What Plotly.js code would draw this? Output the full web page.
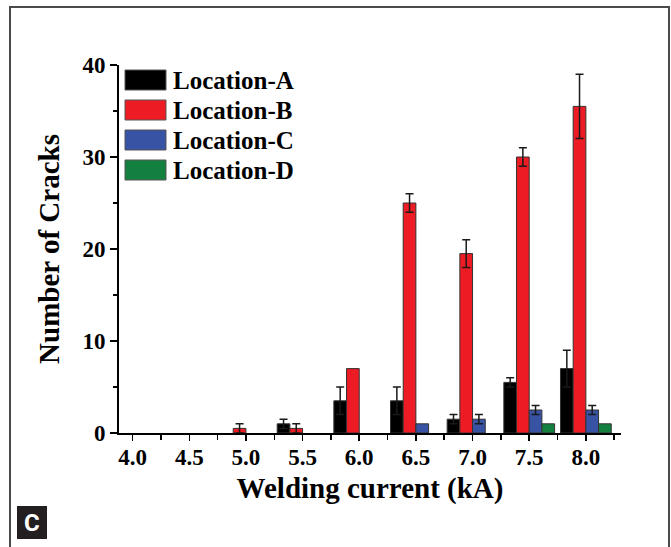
<!DOCTYPE html>
<html>
<head>
<meta charset="utf-8">
<script src="https://cdn.plot.ly/plotly-3.0.1.min.js"></script>
<style>
  html, body { margin: 0; padding: 0; background: #ffffff; }
  #chart { width: 671px; height: 547px; }
</style>
</head>
<body>
<div id="chart"></div>
<script>
// Welding current (kA) at which crack counts were recorded
const currents = [4.0, 4.5, 5.0, 5.5, 6.0, 6.5, 7.0, 7.5, 8.0];
const tickLabels = ['4.0', '4.5', '5.0', '5.5', '6.0', '6.5', '7.0', '7.5', '8.0'];

// Series names and colours
const seriesNames = ['Location-A', 'Location-B', 'Location-C', 'Location-D'];
const seriesColors = ['#000000', '#ed1c24', '#3953a4', '#14803f'];

// Mean number of cracks per location
const locA = [0, 0, 0, 1, 3.5, 3.5, 1.5, 5.5, 7];
const locB = [0, 0, 0.5, 0.5, 7, 25, 19.5, 30, 35.5];
const locC = [0, 0, 0, 0, 0, 1, 1.5, 2.5, 2.5];
const locD = [0, 0, 0, 0, 0, 0, 0, 1, 1];

// Error half-widths (NaN = no error bar drawn)
const errA = [NaN, NaN, NaN, 0.5, 1.5, 1.5, 0.5, 0.5, 2];
const errB = [NaN, NaN, 0.5, 0.5, NaN, 1, 1.5, 1, 3.5];
const errC = [NaN, NaN, NaN, NaN, NaN, NaN, 0.5, 0.5, 0.5];
const errD = [NaN, NaN, NaN, NaN, NaN, NaN, NaN, NaN, NaN];

const seriesValues = [locA, locB, locC, locD];
const seriesErrors = [errA, errB, errC, errD];

const W = 671, H = 547;
const M = { l: 119, r: 50, t: 65, b: 114 };
const plotW = W - M.l - M.r, plotH = H - M.t - M.b;
// pixel -> paper coordinate helpers for decorations
const px = x => (x - M.l) / plotW;
const py = y => (H - M.b - y) / plotH;

const serif = 'Liberation Serif, Times New Roman, serif';

const traces = seriesNames.map((name, i) => ({
  type: 'bar',
  name: name,
  x: currents,
  y: seriesValues[i],
  marker: {
    color: seriesColors[i],
    // no outline on empty (zero-height) bars so the axis stays clean
    line: { color: '#333333', width: seriesValues[i].map(v => (v > 0 ? 1 : 0)) }
  },
  error_y: {
    type: 'data',
    array: seriesErrors[i],
    visible: true,
    color: '#1a1a1a',
    thickness: 1.5,
    width: 4
  },
  showlegend: false,
  hoverinfo: 'x+y+name'
}));

// Legend drawn as swatches + labels in the upper left of the plot
const shapes = [];
const annotations = [];
seriesNames.forEach((name, i) => {
  const top = 70 + i * 30;
  shapes.push({
    type: 'rect', xref: 'paper', yref: 'paper',
    x0: px(125), x1: px(166), y0: py(top), y1: py(top + 20),
    fillcolor: seriesColors[i], line: { color: '#555555', width: 1 }
  });
  annotations.push({
    xref: 'paper', yref: 'paper', x: px(171), y: py(top + 10),
    xanchor: 'left', yanchor: 'middle', showarrow: false,
    text: name,
    font: { family: serif, size: 25, color: '#000000', weight: 700 }
  });
});

// Figure frame
shapes.push({
  type: 'rect', xref: 'paper', yref: 'paper',
  x0: px(10), x1: px(669), y0: py(7), y1: py(560),
  line: { color: '#4a4a4a', width: 2 }, fillcolor: 'rgba(0,0,0,0)'
});
// Panel letter box
shapes.push({
  type: 'rect', xref: 'paper', yref: 'paper',
  x0: px(17), x1: px(47), y0: py(506), y1: py(539),
  line: { width: 0 }, fillcolor: '#231f20'
});
annotations.push({
  xref: 'paper', yref: 'paper', x: px(32), y: py(522.5),
  xanchor: 'center', yanchor: 'middle', showarrow: false,
  text: 'C',
  font: { family: 'Liberation Sans Narrow, Roboto, Arial, sans-serif', size: 24, color: '#ffffff', weight: 700 }
});

const layout = {
  width: W, height: H,
  margin: M,
  paper_bgcolor: '#ffffff',
  plot_bgcolor: '#ffffff',
  barmode: 'group',
  bargap: 0.104,
  bargroupgap: 0,
  showlegend: false,
  xaxis: {
    range: [3.88, 8.31],
    tickmode: 'array',
    tickvals: currents,
    ticktext: tickLabels,
    showgrid: false, zeroline: false,
    showline: true, linecolor: '#000000', linewidth: 2,
    ticks: 'outside', ticklen: 6, tickwidth: 1.5, tickcolor: '#000000',
    ticklabelstandoff: -4,
    minor: { tickmode: 'linear', tick0: 4.25, dtick: 0.5, ticks: 'outside', ticklen: 5, tickwidth: 1.5, tickcolor: '#000000', showgrid: false },
    tickfont: { family: serif, size: 23, color: '#000000', weight: 700 },
    title: { text: 'Welding current (kA)', standoff: 9,
      font: { family: serif, size: 29, color: '#000000', weight: 700 } }
  },
  yaxis: {
    range: [0, 40],
    tickmode: 'linear', tick0: 0, dtick: 10,
    showgrid: false, zeroline: false,
    showline: true, linecolor: '#000000', linewidth: 2,
    ticks: 'outside', ticklen: 7, tickwidth: 1.5, tickcolor: '#000000',
    minor: { tickmode: 'linear', tick0: 5, dtick: 10, ticks: 'outside', ticklen: 4, tickwidth: 1.5, tickcolor: '#000000', showgrid: false },
    tickfont: { family: serif, size: 23, color: '#000000', weight: 700 },
    title: { text: 'Number of Cracks', standoff: 14,
      font: { family: serif, size: 29, color: '#000000', weight: 700 } }
  },
  shapes: shapes,
  annotations: annotations
};

Plotly.newPlot('chart', traces, layout, { displayModeBar: false, staticPlot: true });
</script>
</body>
</html>
